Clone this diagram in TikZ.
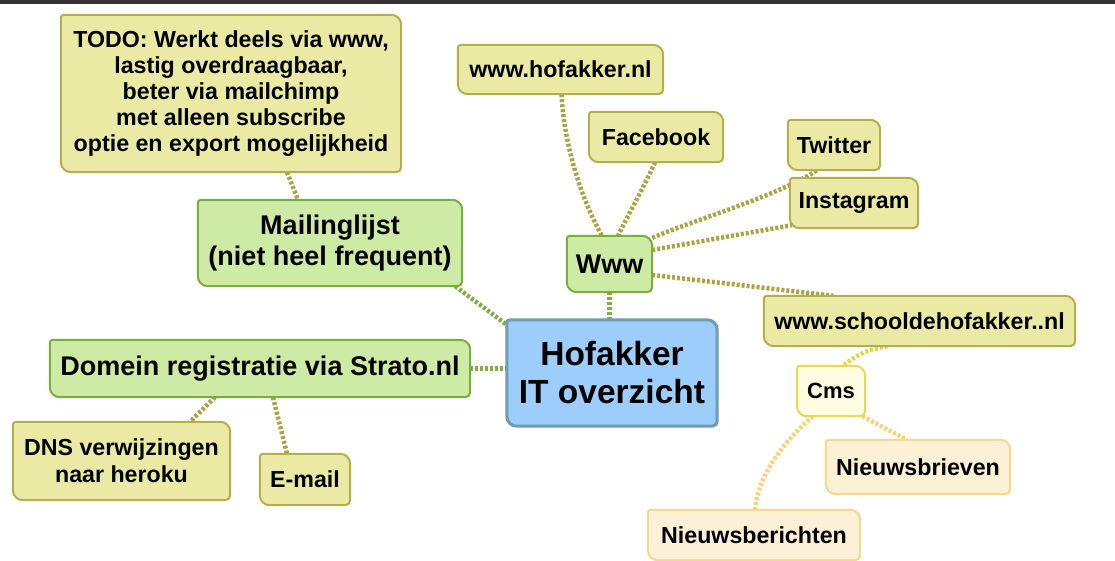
\documentclass[tikz,border=0pt]{standalone}
\usepackage{fontspec}
\setmainfont{Liberation Sans}
\usetikzlibrary{calc}
\pgfdeclarelayer{lines}
\pgfdeclarelayer{boxes}
\pgfsetlayers{lines,boxes,main}

\definecolor{olfill}{HTML}{EBEAA4}
\definecolor{oldraw}{HTML}{B3AF4D}
\definecolor{olline}{HTML}{A9A542}
\definecolor{grfill}{HTML}{CEEBA6}
\definecolor{grdraw}{HTML}{79AE3E}
\definecolor{grline}{HTML}{7DB040}
\definecolor{rtfill}{HTML}{9DCDFA}
\definecolor{rtdraw}{HTML}{6A9FB2}
\definecolor{cmfill}{HTML}{FEFCE1}
\definecolor{cmdraw}{HTML}{E8D955}
\definecolor{cmline}{HTML}{E6D54A}
\definecolor{nwfill}{HTML}{FCF1D7}
\definecolor{nwdraw}{HTML}{F5D88F}
\definecolor{nwline}{HTML}{F6D47E}
\definecolor{topbar}{HTML}{333333}

\newcommand\boxpath[2]{%
 \begin{pgfonlayer}{boxes}
 \path[#2] ([xshift=3pt]#1.north west) -- ([xshift=-10pt]#1.north east)
   arc[start angle=90,end angle=0,radius=10pt] -- ([yshift=5pt]#1.south east)
   arc[start angle=0,end angle=-90,radius=5pt] -- ([xshift=10pt]#1.south west)
   arc[start angle=-90,end angle=-180,radius=10pt] -- ([yshift=-3pt]#1.north west)
   arc[start angle=180,end angle=90,radius=3pt] -- cycle;
 \end{pgfonlayer}}

\tikzset{
  x=1pt, y=1pt,
  txtbase/.style={align=center, inner sep=0pt, text=black},
  t2/.style={txtbase, font=\fontsize{23.2}{26}\selectfont\bfseries},
  t1/.style={txtbase, font=\fontsize{27}{31}\selectfont\bfseries},
  t0/.style={txtbase, font=\fontsize{33.5}{38}\selectfont\bfseries},
  olbox/.style={fill=olfill, draw=oldraw, line width=2pt},
  grbox/.style={fill=grfill, draw=grdraw, line width=2pt},
  rtbox/.style={fill=rtfill, draw=rtdraw, line width=3pt},
  cmbox/.style={fill=cmfill, draw=cmdraw, line width=2pt},
  nwbox/.style={fill=nwfill, draw=nwdraw, line width=2pt},
  conn/.style={draw=#1, line width=4.5pt, dash pattern=on 3pt off 2pt},
}

\begin{document}
\begin{tikzpicture}
\useasboundingbox (0,0) rectangle (1115,-561);
\fill[topbar] (0,0) rectangle (1115,-4);

% nodes
\node[t2, minimum width=340pt, minimum height=157pt] (todo) at (231,-93.5)
  {TODO: Werkt deels via www,\\lastig overdraagbaar,\\beter via mailchimp\\met alleen subscribe\\optie en export mogelijkheid};
\node[t2, minimum width=205pt, minimum height=49pt] (hof) at (560.5,-69.5) {www.hofakker.nl};
\node[t2, minimum width=134pt, minimum height=50pt] (fb) at (656,-137) {Facebook};
\node[t2, minimum width=92pt, minimum height=50pt] (tw) at (834,-145) {Twitter};
\node[t2, minimum width=128pt, minimum height=50pt] (insta) at (854,-203) {Instagram};
\node[t1, minimum width=264pt, minimum height=86pt] (mail) at (330,-243) {Mailinglijst\\(niet heel frequent)};
\node[t1, minimum width=85pt, minimum height=56pt] (www) at (609.5,-264) {Www};
\node[t2, minimum width=311pt, minimum height=50pt] (school) at (919.5,-321) {www.schooldehofakker..nl};
\node[t0, minimum width=210pt, minimum height=106pt] (root) at (612,-373) {Hofakker\\IT overzicht};
\node[t1, minimum width=420pt, minimum height=57pt] (dom) at (260,-368.5) {Domein registratie via Strato.nl};
\node[t2, font=\fontsize{22}{26}\selectfont\bfseries, minimum width=68pt, minimum height=50pt] (cms) at (831,-391) {Cms};
\node[t2, minimum width=184pt, minimum height=54pt] (nbr) at (918,-467) {Nieuwsbrieven};
\node[t2, font=\fontsize{23.2}{27}\selectfont\bfseries, minimum width=217pt, minimum height=78pt] (dns) at (121.5,-461) {DNS verwijzingen\\naar heroku};
\node[t2, minimum width=90pt, minimum height=51pt] (email) at (305,-479.5) {E-mail};
\node[t2, minimum width=212pt, minimum height=50pt] (nbe) at (754,-535) {Nieuwsberichten};

% boxes
\boxpath{todo}{olbox}
\boxpath{hof}{olbox}
\boxpath{fb}{olbox}
\boxpath{tw}{olbox}
\boxpath{insta}{olbox}
\boxpath{mail}{grbox}
\boxpath{www}{grbox}
\boxpath{school}{olbox}
\boxpath{root}{rtbox}
\boxpath{dom}{grbox}
\boxpath{cms}{cmbox}
\boxpath{nbr}{nwbox}
\boxpath{dns}{olbox}
\boxpath{email}{olbox}
\boxpath{nbe}{nwbox}

% connectors
\begin{pgfonlayer}{lines}
\draw[conn=olline] ([xshift=56pt]todo.south) -- ([xshift=-32pt]mail.north);
\draw[conn=grline] ([xshift=-7pt]mail.south east) -- ([yshift=-5pt]root.north west);
\draw[conn=grline] (www.south) -- (www.south |- root.north);
\draw[conn=grline] (dom.east) -- (dom.east -| root.west);
\draw[conn=olline] ([xshift=-45pt]dom.south) -- ([xshift=68.5pt]dns.north);
\draw[conn=olline] ([xshift=13pt]dom.south) -- ([xshift=-18pt]email.north);
\draw[conn=olline] ([xshift=1pt]hof.south) .. controls (565,-160) and (590,-215) .. ([xshift=-7.5pt]www.north);
\draw[conn=olline] ([xshift=-1pt]fb.south) .. controls (645,-185) and (628,-215) .. ([xshift=8.5pt]www.north);
\draw[conn=olline] ([yshift=-2pt]www.north east) .. controls (700,-218) and (780,-195) .. ([xshift=-17pt]tw.south);
\draw[conn=olline] ([yshift=14pt]www.east) -- ([xshift=2pt,yshift=3pt]insta.south west);
\draw[conn=olline] ([yshift=-11pt]www.east) -- ([xshift=-86pt]school.north);
\draw[conn=cmline] ([xshift=-32pt]school.south) to[bend right=15] ([xshift=12pt]cms.north);
\draw[conn=nwline] ([xshift=-18pt]cms.south) .. controls (785,-440) and (758,-475) .. ([xshift=1pt]nbe.north);
\draw[conn=nwline] ([xshift=-3pt]cms.south east) -- ([xshift=-11pt]nbr.north);
\end{pgfonlayer}
\end{tikzpicture}
\end{document}
